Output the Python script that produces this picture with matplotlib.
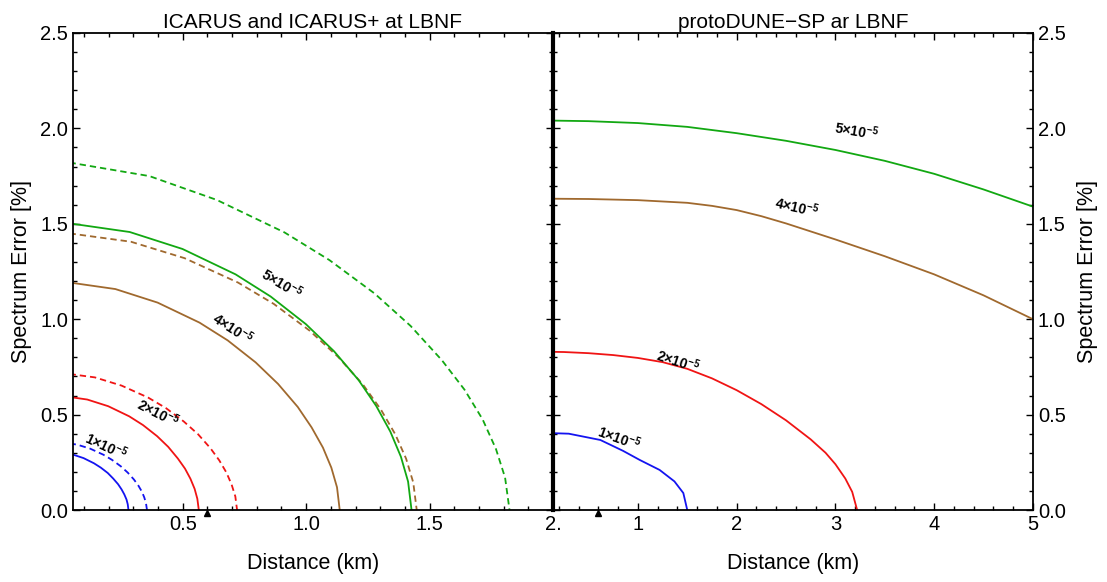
import numpy as np
from matplotlib import pyplot as plt
from matplotlib.ticker import MultipleLocator, FixedLocator
from matplotlib.transforms import offset_copy

plt.rcParams['font.family'] = ['Liberation Sans', 'DejaVu Sans']
plt.rcParams['mathtext.fontset'] = 'custom'
plt.rcParams['mathtext.rm'] = 'Liberation Sans'
plt.rcParams['mathtext.bf'] = 'Liberation Sans:bold'

# ---- ICARUS / ICARUS+ contours (distance km, spectrum error %) ----
blue_s_x = [0, .056, .098, .14, .168, .196, .218, .238, .252, .263, .272, .277, .28]
blue_s_y = [.30, .290, .272, .245, .222, .194, .165, .135, .108, .082, .055, .030, 0]
blue_d_x = [0, .071, .124, .178, .213, .249, .277, .302, .320, .334, .344, .351, .355]
blue_d_y = [.355, .343, .322, .290, .263, .229, .196, .160, .128, .097, .066, .035, 0]
red_s_x = [0, .113, .198, .283, .339, .396, .441, .480, .509, .531, .548, .559, .565]
red_s_y = [.60, .579, .544, .491, .445, .387, .331, .270, .217, .164, .111, .059, 0]
red_d_x = [0, .144, .252, .36, .432, .504, .562, .612, .648, .677, .698, .713, .72]
red_d_y = [.72, .695, .652, .589, .534, .464, .397, .324, .260, .196, .133, .071, 0]
brown_s_x = [0, .227, .398, .568, .682, .795, .886, .966, 1.022, 1.068, 1.102, 1.125, 1.136]
brown_s_y = [1.20, 1.158, 1.087, .982, .889, .774, .661, .540, .433, .327, .222, .119, 0]
brown_d_x = [0, .290, .507, .724, .869, 1.014, 1.129, 1.231, 1.303, 1.361, 1.405, 1.434, 1.448]
brown_d_y = [1.457, 1.406, 1.320, 1.192, 1.080, .940, .803, .656, .526, .397, .269, .144, 0]
green_s_x = [0, .285, .499, .714, .856, .999, 1.113, 1.213, 1.284, 1.341, 1.384, 1.413, 1.427]
green_s_y = [1.51, 1.457, 1.368, 1.235, 1.119, .974, .832, .680, .545, .411, .279, .149, 0]
green_d_x = [0, .365, .638, .912, 1.094, 1.277, 1.423, 1.550, 1.642, 1.715, 1.769, 1.806, 1.824]
green_d_y = [1.83, 1.75, 1.625, 1.455, 1.31, 1.135, .965, .785, .63, .475, .32, .17, 0]

# ---- protoDUNE-SP contours ----
pd_blue_x = [0.0, 0.3, 0.62, 0.85, 1.02, 1.22, 1.37, 1.46, 1.50]
pd_blue_y = [0.405, 0.40, 0.367, 0.31, 0.262, 0.21, 0.15, 0.089, 0.0]
pd_red_x = [0, .25, .5, .75, 1.0, 1.25, 1.5, 1.75, 2.0, 2.25, 2.5, 2.75, 2.9, 3.0, 3.1, 3.17, 3.22]
pd_red_y = [.83, .828, .822, .812, .797, .775, .74, .69, .628, .555, .47, .37, .30, .24, .165, .095, 0]
pd_brown_x = [0, .5, 1.0, 1.5, 1.75, 2.0, 2.25, 2.5, 3.0, 3.5, 4.0, 4.5, 5.0]
pd_brown_y = [1.632, 1.630, 1.624, 1.610, 1.594, 1.572, 1.54, 1.502, 1.418, 1.33, 1.235, 1.125, 1.0]
pd_green_x = [0, .5, 1.0, 1.5, 2.0, 2.5, 3.0, 3.5, 4.0, 4.5, 5.0]
pd_green_y = [2.042, 2.038, 2.028, 2.008, 1.975, 1.935, 1.887, 1.83, 1.762, 1.68, 1.59]

# contour labels: coefficient, x, y, rotation
left_labels = [('5', 0.90, 1.19, -31), ('4', 0.70, 0.955, -33),
               ('2', 0.40, 0.51, -27), ('1', 0.19, 0.335, -25)]
right_labels = [('5', 3.21, 1.99, -10), ('4', 2.61, 1.59, -13),
                ('2', 1.41, 0.78, -18), ('1', 0.81, 0.38, -20)]

c_blue = '#1414f0'
c_red = '#f01414'
c_brown = '#a0692e'
c_green = '#12a812'
dash = (0, (3.5, 2.2))
lw = 1.3

fig = plt.figure(figsize=(11.07, 5.82), dpi=100)
ax1 = fig.add_axes([0.0659, 0.1237, 0.4336, 0.8196])
ax2 = fig.add_axes([0.4995, 0.1237, 0.4336, 0.8196])

ax1.plot(blue_s_x, blue_s_y, color=c_blue, lw=lw)
ax1.plot(blue_d_x, blue_d_y, color=c_blue, lw=lw, linestyle=dash)
ax1.plot(red_s_x, red_s_y, color=c_red, lw=lw)
ax1.plot(red_d_x, red_d_y, color=c_red, lw=lw, linestyle=dash)
ax1.plot(brown_s_x, brown_s_y, color=c_brown, lw=lw)
ax1.plot(brown_d_x, brown_d_y, color=c_brown, lw=lw, linestyle=dash)
ax1.plot(green_s_x, green_s_y, color=c_green, lw=lw)
ax1.plot(green_d_x, green_d_y, color=c_green, lw=lw, linestyle=dash)

ax2.plot(pd_blue_x, pd_blue_y, color=c_blue, lw=lw)
ax2.plot(pd_red_x, pd_red_y, color=c_red, lw=lw)
ax2.plot(pd_brown_x, pd_brown_y, color=c_brown, lw=lw)
ax2.plot(pd_green_x, pd_green_y, color=c_green, lw=lw)

for ax, labels in ((ax1, left_labels), (ax2, right_labels)):
    for n, x, y, rot in labels:
        ax.text(x, y, r'$\mathbf{%s{\times}10^{-5}}$' % n, fontsize=10,
                rotation=rot, ha='center', va='center', rotation_mode='anchor')
    # detector position marker hanging under the axis
    below = offset_copy(ax.transData, fig=fig, y=-2.5, units='points')
    ax.plot([0.6], [0], marker='^', color='black', markersize=5,
            transform=below, clip_on=False, zorder=5)

ax1.set_xlim(0.055, 2.0)
ax2.set_xlim(0.14, 5.0)
for ax in (ax1, ax2):
    ax.set_ylim(0, 2.5)
    ax.yaxis.set_major_locator(MultipleLocator(0.5))
    ax.yaxis.set_minor_locator(MultipleLocator(0.1))
    ax.tick_params(which='both', direction='in', top=True, bottom=True,
                   left=True, right=True, labelsize=14.5, width=1)
    ax.tick_params(which='major', length=5)
    ax.tick_params(which='minor', length=3)
    for sp in ax.spines.values():
        sp.set_linewidth(1.3)
    ax.set_xlabel('Distance (km)', fontsize=15.5, labelpad=14)

ax1.xaxis.set_major_locator(FixedLocator([0.5, 1.0, 1.5, 2.0]))
ax1.set_xticklabels(['0.5', '1.0', '1.5', '2.'])
ax1.xaxis.set_minor_locator(MultipleLocator(0.1))
ax1.set_yticks([0, 0.5, 1.0, 1.5, 2.0, 2.5])
ax1.set_yticklabels(['0.0', '0.5', '1.0', '1.5', '2.0', '2.5'])
ax1.tick_params(labelright=False)
ax1.set_ylabel('Spectrum Error [%]', fontsize=15.5, labelpad=6)

ax2.xaxis.set_major_locator(FixedLocator([1, 2, 3, 4, 5]))
ax2.xaxis.set_minor_locator(MultipleLocator(0.2))
ax2.set_yticks([0, 0.5, 1.0, 1.5, 2.0, 2.5])
ax2.set_yticklabels(['0.0', '0.5', '1.0', '1.5', '2.0', '2.5'])
ax2.tick_params(labelleft=False, labelright=True)
ax2.yaxis.set_label_position('right')
ax2.set_ylabel('Spectrum Error [%]', fontsize=15.5, rotation=90, labelpad=8)
ax2.spines['left'].set_linewidth(3)

ax1.set_title('ICARUS and ICARUS+ at LBNF', fontsize=15, pad=3.5)
ax2.set_title('protoDUNE−SP ar LBNF', fontsize=15, pad=3.5)

fig.savefig('out.png', dpi=100)
